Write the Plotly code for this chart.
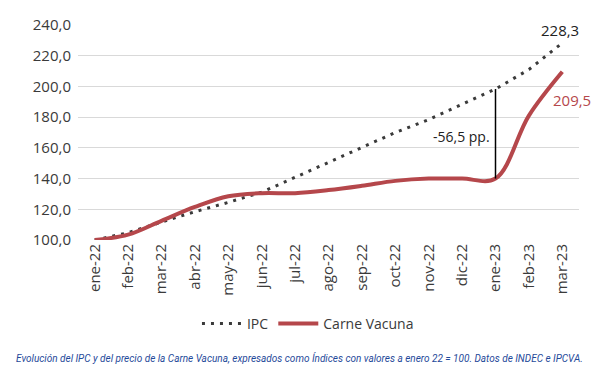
import plotly.graph_objects as go

months = ["ene-22", "feb-22", "mar-22", "abr-22", "may-22", "jun-22", "jul-22", "ago-22",
          "sep-22", "oct-22", "nov-22", "dic-22", "ene-23", "feb-23", "mar-23"]
ipc = [100.0, 104.7, 111.7, 118.4, 124.5, 131.1, 140.8, 150.6, 159.9, 170.0, 178.4, 188.5, 198.3, 211.0, 228.3]
carne = [100.0, 103.5, 112.5, 121.5, 128.5, 130.5, 130.5, 132.5, 135.3, 138.5, 140.0, 140.0, 140.0, 181.0, 209.5]
gap_label = "-56,5 pp."
gap_month = "ene-23"
y_ticks = [100, 120, 140, 160, 180, 200, 220, 240]
caption = ("Evolución del IPC y del precio de la Carne Vacuna, expresados como Índices con valores "
           "a enero 22 = 100. Datos de INDEC e IPCVA.")

RED = "#B5474B"
DARK = "#3A3A3A"
FONT = "Open Sans"

fig = go.Figure()
fig.add_trace(go.Scatter(x=months, y=ipc, name="IPC", mode="lines",
                         line=dict(color=DARK, width=3, dash="3px,6px")))
fig.add_trace(go.Scatter(x=months, y=carne, name="Carne Vacuna", mode="lines",
                         line=dict(color=RED, width=4, shape="spline", smoothing=1.0)))

gi = months.index(gap_month)
fig.add_shape(type="line", xref="x", yref="y", x0=gi, x1=gi, y0=carne[gi], y1=ipc[gi],
              line=dict(color="black", width=1.5))
fig.add_annotation(x=gi, y=(carne[gi] + ipc[gi]) / 2, text=gap_label, showarrow=False,
                   xanchor="right", xshift=-4, yshift=-3, font=dict(size=14, color="#222222", family=FONT))
fig.add_annotation(x=len(months) - 1, y=ipc[-1], text=f"{ipc[-1]:.1f}".replace(".", ","),
                   showarrow=False, yshift=13, xshift=-2, font=dict(size=15, color="#222222", family=FONT))
fig.add_annotation(x=len(months) - 1, y=carne[-1], text=f"{carne[-1]:.1f}".replace(".", ","),
                   showarrow=False, yshift=-28, xshift=10, font=dict(size=15, color=RED, family=FONT))
fig.add_annotation(xref="paper", yref="paper", x=0.443, y=-0.549, xanchor="center", yanchor="middle",
                   showarrow=False, text=f"<i>{caption}</i>",
                   font=dict(size=10, color="#1F4A9A", family="Roboto"))

# page body has an 8px margin, so the figure is made 8px smaller and margins shifted
fig.update_layout(
    width=593, height=367, margin=dict(l=70, r=22, t=17, b=135),
    paper_bgcolor="white", plot_bgcolor="white",
    separators=",.",
    font=dict(family=FONT, size=15, color=DARK),
    legend=dict(orientation="h", x=0.459, y=-0.39, xanchor="center", yanchor="middle",
                font=dict(size=14, color=DARK), itemwidth=40),
    showlegend=True,
)
fig.update_xaxes(type="category", range=[-0.5, len(months) - 0.5], tickangle=-90,
                 showgrid=False, showline=False, ticks="", automargin=False,
                 tickfont=dict(size=15, color=DARK))
fig.update_yaxes(range=[100, 240], tickvals=y_ticks, tickformat=".1f", showgrid=True,
                 gridcolor="#D9D9D9", gridwidth=1, zeroline=False, showline=False, ticks="",
                 automargin=False, ticklabelstandoff=6, tickfont=dict(size=15, color=DARK))

fig.write_html("out.html")
